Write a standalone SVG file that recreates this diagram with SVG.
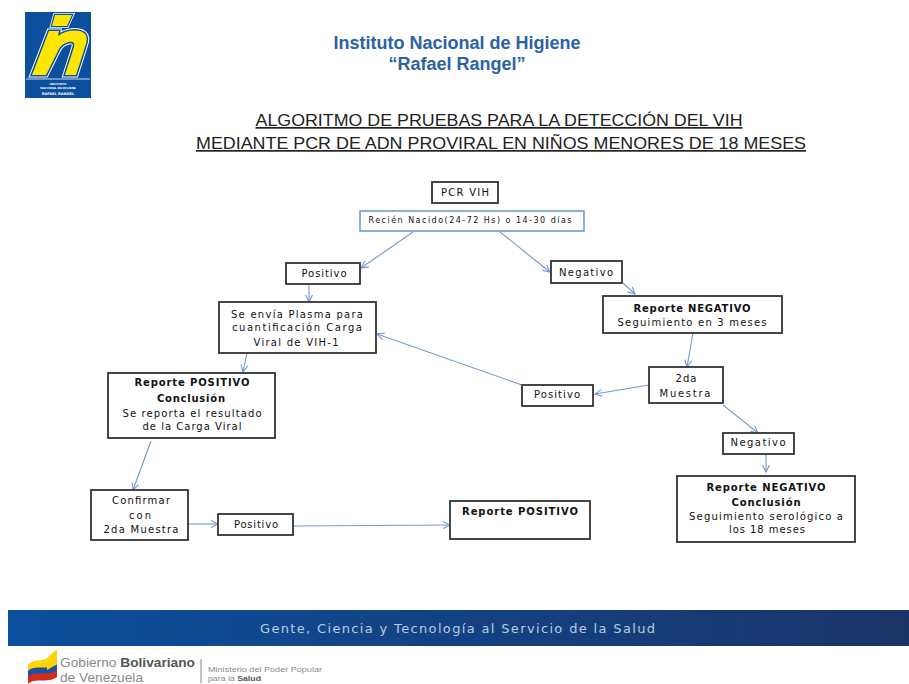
<svg xmlns="http://www.w3.org/2000/svg" width="909" height="684" viewBox="0 0 909 684">
<style>
text{font-family:"DejaVu Sans",Verdana,sans-serif;fill:#111;font-size:10px;text-anchor:middle}
.b{font-weight:bold}
.box{fill:#fff;stroke:#333;stroke-width:1.8}
.con{fill:none;stroke:#6f9bd0;stroke-width:1.1;marker-end:url(#a)}
.head{font-family:"Liberation Sans",Arial,sans-serif;font-weight:bold;font-size:18px;fill:#2b62a3}
.title{font-family:"Liberation Sans",Arial,sans-serif;font-size:17px;fill:#222;text-decoration:underline}
.ft{font-family:"Liberation Sans",Arial,sans-serif;fill:#8a8a8a;text-anchor:start}
</style>
<defs>
<marker id="a" markerWidth="10" markerHeight="10" refX="8" refY="4" orient="auto" markerUnits="userSpaceOnUse"><path d="M1 0.5L8 4L1 7.5" fill="none" stroke="#6f9bd0" stroke-width="1.1"/></marker>
<linearGradient id="band" x1="0" x2="1" y1="0" y2="0"><stop offset="0" stop-color="#0b4f9c"/><stop offset="1" stop-color="#1b3468"/></linearGradient>
<path id="hshape" d="M49 31H59L58 36C66 30 78 29 84 33C88 36 87 42 85 47L76 75H65L74 47C75 43 73 41 69 42C64 43 60 46 58 51L46 75H32Z"/>
<path id="ishape" d="M55 15H72L67 26H52Z"/>
</defs>
<rect width="909" height="684" fill="#fff"/>

<g id="logo">
<rect x="25" y="12" width="66" height="86" fill="#0b4f9f"/>
<use href="#hshape" fill="none" stroke="#fff" stroke-width="5"/>
<use href="#hshape" fill="none" stroke="#0b4f9f" stroke-width="3"/>
<use href="#hshape" fill="#ffe600"/>
<use href="#ishape" fill="none" stroke="#fff" stroke-width="4"/>
<use href="#ishape" fill="none" stroke="#0b4f9f" stroke-width="2.4"/>
<use href="#ishape" fill="#ffe600"/>
<path d="M26 79H90" stroke="#fff" stroke-width="0.8"/>
<text x="58" y="85" style="font-size:2.8px;fill:#fff" class="b">INSTITUTO</text>
<text x="58" y="89" style="font-size:2.8px;fill:#fff" class="b">NACIONAL DE HIGIENE</text>
<text x="58" y="95" style="font-size:3.6px;fill:#fff" class="b">RAFAEL RANGEL</text>
</g>

<g id="header">
<text class="head" x="457" y="49">Instituto Nacional de Higiene</text>
<text class="head" x="457" y="70">“Rafael Rangel”</text>
<text class="title" x="499" y="126" textLength="487" lengthAdjust="spacingAndGlyphs">ALGORITMO DE PRUEBAS PARA LA DETECCIÓN DEL VIH </text>
<text class="title" x="501" y="149" textLength="610" lengthAdjust="spacingAndGlyphs">MEDIANTE PCR DE ADN PROVIRAL EN NIÑOS MENORES DE 18 MESES</text>
</g>

<g id="connectors">
<path class="con" d="M413 232L361 268"/>
<path class="con" d="M500 232L550 272"/>
<path class="con" d="M309 284V302"/>
<path class="con" d="M623 283L635 294"/>
<path class="con" d="M693 333L687 367"/>
<path class="con" d="M649 385L595 394"/>
<path class="con" d="M522 385L377 334"/>
<path class="con" d="M723 405L758 433"/>
<path class="con" d="M766 454V472"/>
<path class="con" d="M247 353L243 372"/>
<path class="con" d="M151 441L133 490"/>
<path class="con" d="M188 524H218"/>
<path class="con" d="M293 526L450 525"/>
</g>

<g id="n-pcr"><rect class="box" x="432" y="182" width="66" height="21"/><text x="465" y="196" textLength="48">PCR VIH</text></g>
<g id="n-recien"><rect x="360" y="211" width="224" height="20" fill="#fff" stroke="#5b8fc9" stroke-width="1.4"/><text x="470" y="223" style="font-size:8px" textLength="203">Recién Nacido(24-72 Hs) o 14-30 días</text></g>
<g id="n-pos1"><rect class="box" x="286" y="263" width="74" height="21"/><text x="324" y="277" textLength="45">Positivo</text></g>
<g id="n-neg1"><rect class="box" x="551" y="261" width="71" height="22"/><text x="586" y="276" textLength="54">Negativo</text></g>
<g id="n-plasma"><rect class="box" x="219" y="302" width="157" height="51"/>
<text x="297" y="318" textLength="132">Se envía Plasma para</text><text x="297" y="331" textLength="130">cuantificación Carga</text><text x="296" y="346" textLength="85">Viral de VIH-1</text></g>
<g id="n-repneg1"><rect class="box" x="603" y="296" width="179" height="37"/>
<text class="b" x="692" y="312" textLength="117">Reporte NEGATIVO</text><text x="692" y="326" textLength="149">Seguimiento en 3 meses</text></g>
<g id="n-2da"><rect class="box" x="649" y="367" width="74" height="36"/>
<text x="686" y="382" textLength="21">2da</text><text x="685" y="397" textLength="51">Muestra</text></g>
<g id="n-pos2"><rect class="box" x="522" y="385" width="71" height="21"/><text x="557" y="398" textLength="46">Positivo</text></g>
<g id="n-neg2"><rect class="box" x="723" y="433" width="71" height="21"/><text x="758" y="446" textLength="55">Negativo</text></g>
<g id="n-repneg2"><rect class="box" x="677" y="476" width="178" height="66"/>
<text class="b" x="766" y="491" textLength="119">Reporte NEGATIVO</text><text class="b" x="766" y="506" textLength="69">Conclusión</text><text x="766" y="520" textLength="154">Seguimiento serológico a</text><text x="767" y="533" textLength="76">los 18 meses</text></g>
<g id="n-reppos1"><rect class="box" x="108" y="373" width="167" height="65"/>
<text class="b" x="192" y="386" textLength="115">Reporte POSITIVO</text><text class="b" x="191" y="402" textLength="68">Conclusión</text><text x="192" y="417" textLength="139">Se reporta el resultado</text><text x="192" y="430" textLength="99">de la Carga Viral</text></g>
<g id="n-confirmar"><rect class="box" x="91" y="490" width="97" height="50"/>
<text x="141" y="504" textLength="58">Confirmar</text><text x="140" y="519" textLength="22">con</text><text x="141" y="533" textLength="75">2da Muestra</text></g>
<g id="n-pos3"><rect class="box" x="218" y="514" width="75" height="21"/><text x="256" y="528" textLength="44">Positivo</text></g>
<g id="n-reppos2"><rect class="box" x="450" y="501" width="140" height="38"/><text class="b" x="520" y="515" textLength="116">Reporte POSITIVO</text></g>

<g id="footer">
<rect x="8" y="610" width="901" height="36" fill="url(#band)"/>
<text x="457.5" y="633" style="font-size:13px;fill:#b9cde4" textLength="395">Gente, Ciencia y Tecnología al Servicio de la Salud</text>
<path d="M28 665C35 658 42 662 47 658L47 670C41 674 34 670 28 677Z" fill="#ffd400"/>
<path d="M28 671C35 664 47 671 57 664V675C47 682 35 675 28 682Z" fill="#1f4fa0"/>
<path d="M28 677C35 670 47 677 57 670V677C47 684 35 677 28 684Z" fill="#d52b1e"/>
<path d="M47 658L57 649V664L47 670Z" fill="#ffd400"/>
<text class="ft" x="60" y="667" style="font-size:13px" textLength="135" lengthAdjust="spacingAndGlyphs">Gobierno <tspan style="font-weight:bold;fill:#555">Bolivariano</tspan></text>
<text class="ft" x="60" y="682" style="font-size:13px" textLength="83" lengthAdjust="spacingAndGlyphs">de Venezuela</text>
<path d="M201 659V683" stroke="#888" stroke-width="1"/>
<text class="ft" x="208" y="672" style="font-size:7px" textLength="114" lengthAdjust="spacingAndGlyphs">Ministerio del Poder Popular</text>
<text class="ft" x="208" y="681" style="font-size:7px" textLength="53" lengthAdjust="spacingAndGlyphs">para la <tspan style="font-weight:bold;fill:#555">Salud</tspan></text>
</g>
</svg>
